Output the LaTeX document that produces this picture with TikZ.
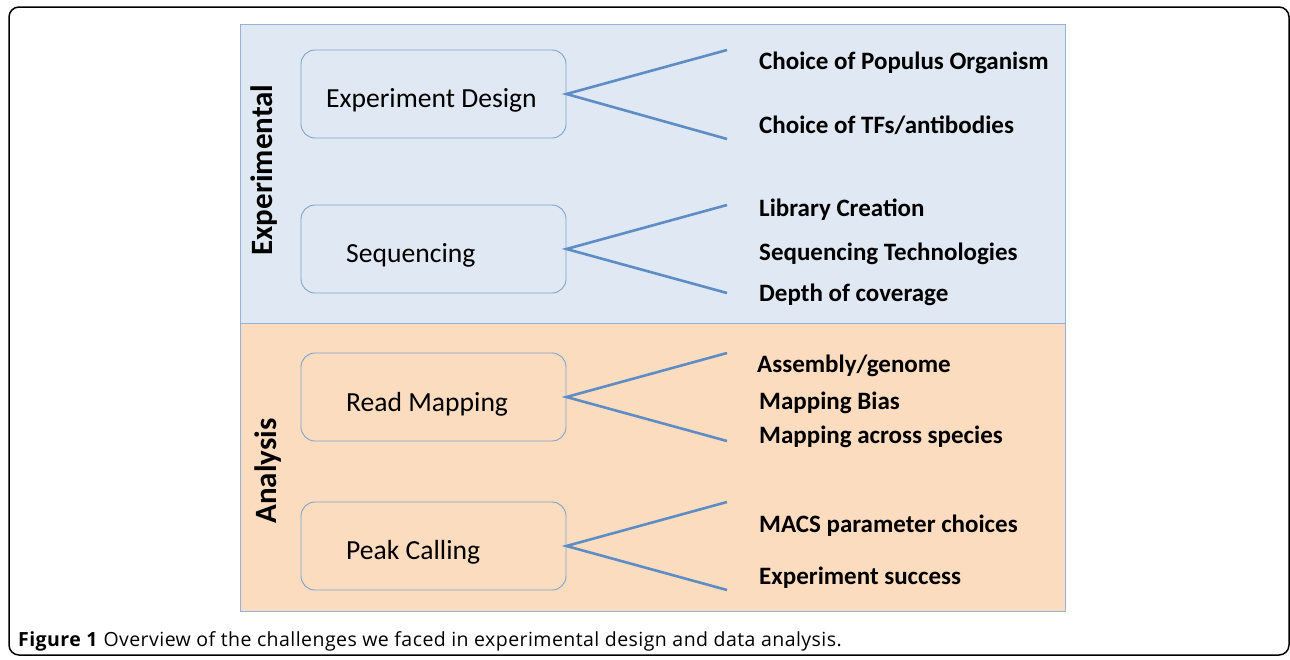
\documentclass[tikz,border=0pt]{standalone}
\usepackage{fontspec}
\setmainfont{Carlito}
\newfontfamily\capfont[LetterSpace=2.3]{Open Sans}
\usetikzlibrary{positioning}
\definecolor{panelblue}{HTML}{DFE8F3}
\definecolor{panelorange}{HTML}{FBDCBF}
\definecolor{rimblue}{HTML}{95B3D7}
\definecolor{boxrim}{HTML}{7FA3CF}
\definecolor{branchblue}{HTML}{5E8DC6}
\tikzset{
  stage/.style={draw=boxrim, line width=0.9pt, rounded corners=14pt,
    minimum width=265pt, minimum height=88pt, inner sep=0pt},
  stagetext/.style={anchor=west, inner sep=0pt, font=\fontsize{27.6}{32}\selectfont},
  choice/.style={anchor=west, inner sep=0pt, font=\bfseries\fontsize{25}{30}\selectfont},
  branch/.style={draw=branchblue, line width=2.6pt},
  side/.style={rotate=90, font=\bfseries\fontsize{31}{36}\selectfont}
}
\begin{document}
\begin{tikzpicture}[x=1pt, y=-1pt]
      \useasboundingbox (0,0) rectangle (1290,659);
      \draw[line width=1.5pt, rounded corners=10pt] (9,7) rectangle (1289,655);
      \fill[panelblue] (240,24) rectangle (1065,323);
      \fill[panelorange] (240,323) rectangle (1065,611);
      \draw[rimblue, line width=1pt] (240,24) rectangle (1065,611) (240,323) -- (1065,323);
      \node[side] (exp) at (264,170) {Experimental};
      \node[side] (ana) at (268,471) {Analysis};
      \node[stage] (design) at (433.5,94) {};
      \node[stage] (seq) at (433.5,249) {};
      \node[stage] (map) at (433.5,397) {};
      \node[stage] (peak) at (433.5,546) {};
      \node[stagetext] at (326,100) {Experiment Design};
      \node[stagetext] at (346,255) {Sequencing};
      \node[stagetext] at (346,404) {Read Mapping};
      \node[stagetext] at (346,552) {Peak Calling};
      \coordinate (d1) at (727,50);  \coordinate (d2) at (727,139);
      \coordinate (s1) at (727,205); \coordinate (s2) at (727,293);
      \coordinate (m1) at (727,353); \coordinate (m2) at (727,441);
      \coordinate (p1) at (727,502); \coordinate (p2) at (727,590);
      \begin{scope}[branch]
        \draw (d1) -- (design.east) -- (d2);
        \draw (s1) -- (seq.east) -- (s2);
        \draw (m1) -- (map.east) -- (m2);
        \draw (p1) -- (peak.east) -- (p2);
      \end{scope}
      \node[choice] (c1) at (759,63) {Choice of Populus Organism};
      \node[choice] (c2) at (759,125) {Choice of TFs/antibodies};
      \node[choice] (c3) at (759,210) {Library Creation};
      \node[choice] (c4) at (759,254) {Sequencing Technologies};
      \node[choice] (c5) at (759,295) {Depth of coverage};
      \node[choice] (c6) at (757,366) {Assembly/genome};
      \node[choice] (c7) at (759,403) {Mapping Bias};
      \node[choice] (c8) at (759,437) {Mapping across species};
      \node[choice] (c9) at (759,526) {MACS parameter choices};
      \node[choice] (c10) at (759,578) {Experiment success};
      \node[anchor=west, inner sep=0pt, font=\capfont\fontsize{19.5}{23}\selectfont] (cap) at (18,641)
        {\textbf{Figure 1} Overview of the challenges we faced in experimental design and data analysis.};
    \end{tikzpicture}
\end{document}
